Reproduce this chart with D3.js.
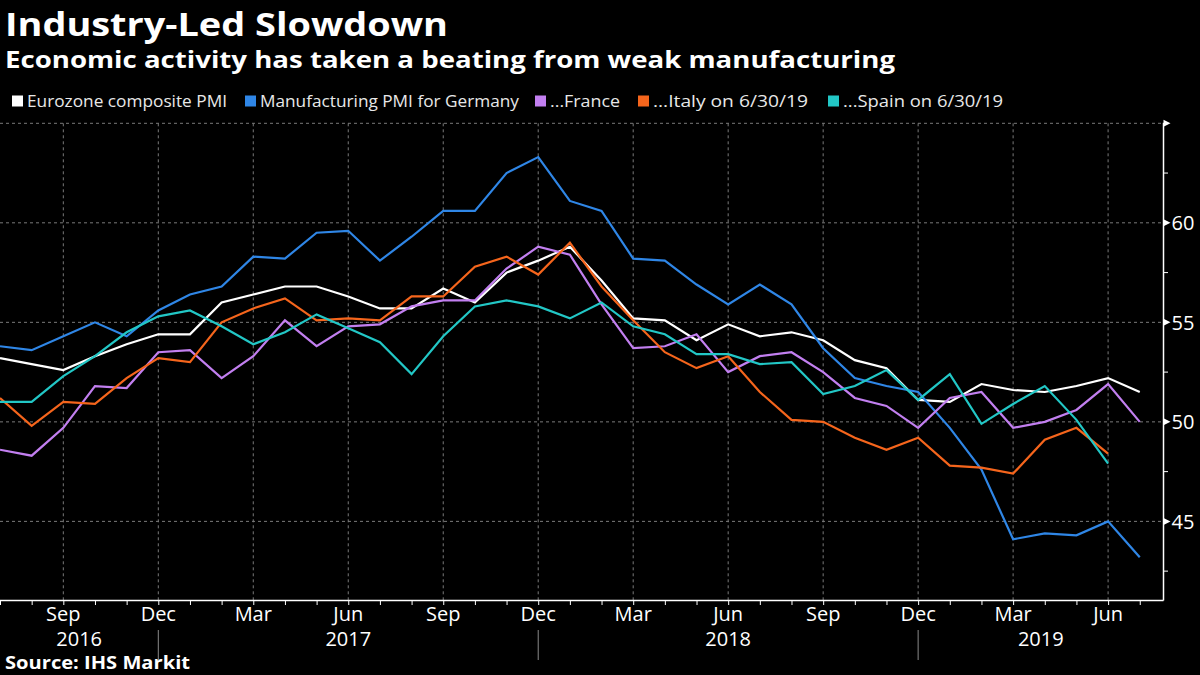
<!DOCTYPE html>
<html><head><meta charset="utf-8">
<script src="https://cdn.jsdelivr.net/npm/d3@7"></script>
<style>
html,body{margin:0;padding:0;background:#000;}
svg{display:block;background:#000;}
text{font-family:"Open Sans","Noto Sans",sans-serif;}
</style></head><body>
<svg id="chart" width="1200" height="675"></svg>
<script>
// ---- data ----
const months = ["2016-07","2016-08","2016-09","2016-10","2016-11","2016-12",
  "2017-01","2017-02","2017-03","2017-04","2017-05","2017-06","2017-07","2017-08","2017-09","2017-10","2017-11","2017-12",
  "2018-01","2018-02","2018-03","2018-04","2018-05","2018-06","2018-07","2018-08","2018-09","2018-10","2018-11","2018-12",
  "2019-01","2019-02","2019-03","2019-04","2019-05","2019-06","2019-07"];
const eurozone = [53.2,52.9,52.6,53.3,53.9,54.4,54.4,56.0,56.4,56.8,56.8,56.3,55.7,55.7,56.7,56.0,57.5,58.1,58.8,57.1,55.2,55.1,54.1,54.9,54.3,54.5,54.1,53.1,52.7,51.1,51.0,51.9,51.6,51.5,51.8,52.2,51.5];
const germany = [53.8,53.6,54.3,55.0,54.3,55.6,56.4,56.8,58.3,58.2,59.5,59.6,58.1,59.3,60.6,60.6,62.5,63.3,61.1,60.6,58.2,58.1,56.9,55.9,56.9,55.9,53.7,52.2,51.8,51.5,49.7,47.6,44.1,44.4,44.3,45.0,43.2];
const france = [48.6,48.3,49.7,51.8,51.7,53.5,53.6,52.2,53.3,55.1,53.8,54.8,54.9,55.8,56.1,56.1,57.7,58.8,58.4,55.9,53.7,53.8,54.4,52.5,53.3,53.5,52.5,51.2,50.8,49.7,51.2,51.5,49.7,50.0,50.6,51.9,50.0];
const italy = [51.2,49.8,51.0,50.9,52.2,53.2,53.0,55.0,55.7,56.2,55.1,55.2,55.1,56.3,56.3,57.8,58.3,57.4,59.0,56.8,55.1,53.5,52.7,53.3,51.5,50.1,50.0,49.2,48.6,49.2,47.8,47.7,47.4,49.1,49.7,48.4];
const spain = [51.0,51.0,52.3,53.3,54.5,55.3,55.6,54.8,53.9,54.5,55.4,54.7,54.0,52.4,54.3,55.8,56.1,55.8,55.2,56.0,54.8,54.4,53.4,53.4,52.9,53.0,51.4,51.8,52.6,51.1,52.4,49.9,50.9,51.8,50.1,47.9];
const seriesNames = ["Eurozone composite PMI","Manufacturing PMI for Germany","...France","...Italy on 6/30/19","...Spain on 6/30/19"];
const seriesColors = ["#ffffff","#2f86e6","#c27ff0","#f5651c","#22c7c6"];
const quarterMonths = ["Sep","Dec","Mar","Jun"];
const yearLabels = ["2016","2017","2018","2019"];
const yTicks = [45,50,55,60,65];
const yMinorTicks = [42.5,47.5,52.5,57.5,62.5];

// ---- layout ----
const svg = d3.select("#chart");
const plot = {left:0, right:1163.5, top:123.3, bottom:600};
const x = d3.scaleLinear().domain([0, 36.75]).range([plot.left, plot.right]);
const y = d3.scaleLinear().domain([41.05, 65]).range([plot.bottom, plot.top]);
const monthIdx = months.map((m,i)=>i);
const monthNum = months.map(m=>+m.slice(5,7));
const monthNames = ["Jan","Feb","Mar","Apr","May","Jun","Jul","Aug","Sep","Oct","Nov","Dec"];

// titles
function fitText(sel, w){ sel.attr("textLength", w).attr("lengthAdjust","spacingAndGlyphs"); }
svg.append("text").attr("x",5).attr("y",36).attr("fill","#fff")
  .attr("font-size",32).attr("font-weight","bold").text("Industry-Led Slowdown").call(fitText,443);
svg.append("text").attr("x",5).attr("y",68).attr("fill","#fff")
  .attr("font-size",24).attr("font-weight","bold").text("Economic activity has taken a beating from weak manufacturing").call(fitText,890);

// legend
const legendX = [12, 245, 535, 638, 828];
const legendW = [200, 259, 70, 155, 160];
const lg = svg.append("g");
seriesNames.forEach((n,i)=>{
  lg.append("rect").attr("x",legendX[i]).attr("y",95.5).attr("width",11).attr("height",11).attr("fill",seriesColors[i]);
  lg.append("text").attr("x",legendX[i]+15).attr("y",107.3).attr("fill","#e8e8e8").attr("font-size",17).text(n).call(fitText,legendW[i]);
});

// gridlines
const grid = svg.append("g").attr("stroke","#7a7a7a").attr("stroke-width",1).attr("stroke-dasharray","3,3");
yTicks.forEach(v=>{
  grid.append("line").attr("x1",plot.left).attr("x2",plot.right).attr("y1",y(v)).attr("y2",y(v));
});
const quarterIdx = monthIdx.filter(i=>[3,6,9,12].includes(monthNum[i]));
quarterIdx.forEach(i=>{
  grid.append("line").attr("x1",x(i)).attr("x2",x(i)).attr("y1",plot.top).attr("y2",plot.bottom);
});

// lines
const allSeries = [eurozone, germany, france, italy, spain];
const line = d3.line().x((d,i)=>x(i)).y(d=>y(d));
allSeries.forEach((s,k)=>{
  svg.append("path").datum(s).attr("fill","none").attr("stroke",seriesColors[k])
    .attr("stroke-width",2.2).attr("stroke-linejoin","miter").attr("d",line);
});

// right axis
const ra = svg.append("g").attr("stroke","#fff").attr("fill","#fff");
ra.append("line").attr("x1",plot.right).attr("x2",plot.right).attr("y1",plot.top-0.5).attr("y2",plot.bottom+0.5).attr("stroke-width",1.5);
yTicks.forEach(v=>{
  const yy = y(v);
  ra.append("path").attr("stroke","none")
    .attr("d",`M${plot.right},${yy-3.5}L${plot.right+7},${yy}L${plot.right},${yy+3.5}Z`);
  if (v!==65) ra.append("text").attr("stroke","none").attr("x",plot.right+8).attr("y",yy).attr("dy","0.36em")
    .attr("font-size",20).text(v);
});
yMinorTicks.forEach(v=>{
  ra.append("line").attr("x1",plot.right).attr("x2",plot.right+4.5).attr("y1",y(v)).attr("y2",y(v)).attr("stroke-width",1);
});

// bottom axis
const xAxis = d3.axisBottom(x).tickValues(monthIdx).tickSize(5).tickFormat("");
const xa = svg.append("g").attr("transform",`translate(0,${plot.bottom})`).call(xAxis);
xa.select(".domain").attr("stroke","#fff").attr("stroke-width",1.5).attr("d",`M${plot.left},0.5H${plot.right}`);
xa.selectAll(".tick line").attr("stroke","#fff");
quarterIdx.forEach(i=>{
  svg.append("text").attr("x",x(i)).attr("y",621).attr("text-anchor","middle").attr("fill","#fff")
    .attr("font-size",20).text(monthNames[monthNum[i]-1]);
});
// year separators and labels
const decIdx = monthIdx.filter(i=>monthNum[i]===12);
decIdx.forEach(i=>{
  svg.append("line").attr("x1",x(i)).attr("x2",x(i)).attr("y1",630).attr("y2",660).attr("stroke","#8a8a8a").attr("stroke-width",1);
});
const bounds = [plot.left, ...decIdx.map(i=>x(i)), plot.right];
yearLabels.forEach((t,k)=>{
  svg.append("text").attr("x",(bounds[k]+bounds[k+1])/2).attr("y",646).attr("text-anchor","middle")
    .attr("fill","#fff").attr("font-size",20).text(t);
});

// source
svg.append("text").attr("x",5).attr("y",669).attr("fill","#fff").attr("font-size",17).attr("font-weight","bold")
  .text("Source: IHS Markit").call(fitText,185);
</script>
</body></html>
